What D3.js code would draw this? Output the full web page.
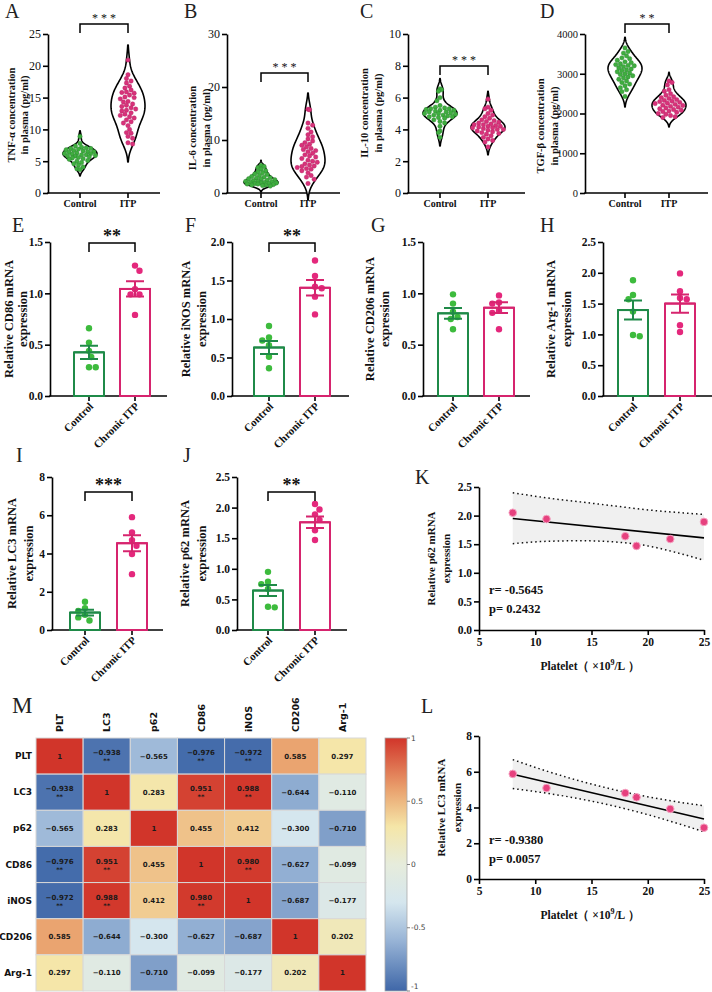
<!DOCTYPE html>
<html><head><meta charset="utf-8">
<script src="https://cdn.jsdelivr.net/npm/d3@7/dist/d3.min.js"></script>
<style>body{margin:0;background:#fff}svg{display:block}</style>
</head><body><svg id="c" width="712" height="992"></svg>
<script>
// ---------------- DATA ----------------
const violinCats = ["Control", "ITP"];
const tnfControl = [8.9,7.8,7.4,7.2,7.1,7.0,7.0,6.9,6.8,6.7,6.6,6.5,6.5,6.4,6.3,6.2,6.2,6.1,6.0,6.0,5.9,5.8,5.8,5.7,5.6,5.5,5.4,5.3,5.1,5.0,4.8,4.6,4.4,4.1,3.8,3.7];
const tnfITP = [20.9,18.6,18.0,17.6,17.3,16.8,16.5,16.2,15.9,15.8,15.7,15.4,15.1,15.0,14.8,14.4,14.3,14.0,13.8,13.6,13.4,13.2,13.0,12.9,12.6,12.4,12.2,12.0,11.8,11.5,11.2,11.0,10.6,10.0,9.5,9.4,8.9,8.6,7.9,7.7];
const il6Control = [5.2,5.0,4.8,4.5,4.2,4.0,3.8,3.6,3.5,3.3,3.1,3.0,2.9,2.8,2.7,2.6,2.5,2.4,2.3,2.2,2.2,2.1,2.0,2.0,1.9,1.9,1.8,1.8,1.7,1.7,1.6,1.5,1.5,1.4,1.3];
const il6ITP = [15.8,15.7,13.2,12.8,12.2,11.5,11.0,10.6,10.2,9.8,9.5,9.2,9.0,8.7,8.4,8.2,8.0,7.8,7.5,7.2,7.0,6.8,6.5,6.2,6.0,5.8,5.5,5.3,5.1,5.0,4.8,4.6,4.5,4.2,3.8,3.3,3.0,2.6,1.8];
const il10Control = [6.55,6.5,6.4,6.0,5.8,5.5,5.4,5.35,5.3,5.3,5.25,5.2,5.2,5.15,5.1,5.1,5.05,5.0,5.0,4.95,4.9,4.9,4.85,4.8,4.8,4.75,4.7,4.6,4.5,4.4,4.2,3.9,3.8,3.5];
const il10ITP = [5.9,5.4,5.3,5.2,5.0,4.9,4.8,4.7,4.6,4.55,4.5,4.45,4.4,4.35,4.3,4.3,4.25,4.2,4.2,4.15,4.1,4.1,4.05,4.0,4.0,3.95,3.9,3.85,3.8,3.75,3.7,3.6,3.5,3.4,3.3,3.2,2.9];
const tgfControl = [3650,3560,3520,3450,3400,3380,3340,3300,3280,3250,3230,3210,3200,3180,3150,3120,3100,3080,3050,3020,3000,2980,2950,2920,2900,2860,2820,2780,2740,2700,2650,2600,2550,2430];
const tgfITP = [2820,2780,2720,2600,2560,2500,2460,2420,2400,2380,2350,2330,2310,2300,2280,2260,2250,2230,2210,2200,2180,2160,2140,2120,2100,2080,2060,2050,2030,2000,1980,1950,1920,1900];

const barCats = ["Control", "Chronic ITP"];
const cd86Control = [0.66,0.52,0.44,0.38,0.28,0.28], cd86ITP = [1.27,1.22,1.04,0.99,0.99,0.79];
const cd86Mean = [0.425,1.043], cd86Sem = [0.065,0.075];
const inosControl = [0.91,0.76,0.72,0.66,0.51,0.36], inosITP = [1.76,1.56,1.42,1.40,1.29,1.06];
const inosMean = [0.63,1.405], inosSem = [0.085,0.10];
const cd206Control = [0.99,0.90,0.82,0.77,0.75,0.65], cd206ITP = [0.98,0.91,0.90,0.83,0.81,0.65];
const cd206Mean = [0.805,0.86], cd206Sem = [0.052,0.052];
const arg1Control = [1.88,1.64,1.57,1.37,0.99,0.97], arg1ITP = [1.99,1.70,1.59,1.57,1.15,1.04];
const arg1Mean = [1.395,1.50], arg1Sem = [0.155,0.148];
const lc3Control = [1.48,1.14,1.0,0.8,0.66,0.5], lc3ITP = [5.9,5.1,4.7,4.4,3.97,2.92];
const lc3Mean = [0.91,4.54], lc3Sem = [0.15,0.42];
const p62Control = [0.95,0.79,0.75,0.67,0.38,0.37], p62ITP = [2.06,1.97,1.89,1.80,1.63,1.47];
const p62Mean = [0.645,1.76], p62Sem = [0.09,0.095];

const plateletX = [8,11,18,19,22,25];
const p62Corr = [2.05,1.94,1.64,1.47,1.59,1.89];
const lc3Corr = [5.88,5.09,4.81,4.57,3.92,2.87];
const bandX = [8,11,14,17,20,23,25];
const p62Upper = [2.40,2.31,2.24,2.17,2.10,2.05,2.02];
const p62Lower = [1.51,1.55,1.56,1.54,1.47,1.33,1.22];
const p62Fit = [1.95,1.61];
const lc3Upper = [6.68,6.04,5.48,5.00,4.60,4.28,4.10];
const lc3Lower = [5.06,4.80,4.48,4.08,3.60,3.04,2.64];
const lc3Fit = [5.86,3.36];
const fitX = [8,25];

const heatLabels = ["PLT","LC3","p62","CD86","iNOS","CD206","Arg-1"];
const corrMatrix = [
  [1,-0.938,-0.565,-0.976,-0.972,0.585,0.297],
  [-0.938,1,0.283,0.951,0.988,-0.644,-0.110],
  [-0.565,0.283,1,0.455,0.412,-0.300,-0.710],
  [-0.976,0.951,0.455,1,0.980,-0.627,-0.099],
  [-0.972,0.988,0.412,0.980,1,-0.687,-0.177],
  [0.585,-0.644,-0.300,-0.627,-0.687,1,0.202],
  [0.297,-0.110,-0.710,-0.099,-0.177,0.202,1]];
const sigMatrix = [
  ["","**","","**","**","",""],
  ["**","","","**","**","",""],
  ["","","","","","",""],
  ["**","**","","","**","",""],
  ["**","**","","**","","",""],
  ["","","","","","",""],
  ["","","","","","",""]];
const colorbarTicks = [1,0.5,0,-0.5,-1];
const colorStops = [-1,-0.6,-0.3,0,0.3,0.6,1];
const colorVals = ["#3f67a8","#98b4d6","#d5e6ee","#e6ecdc","#f5e6a8","#e9a06d","#d1352a"];

// ---------------- HELPERS ----------------
const svg = d3.select("#c");
const SERIF = "'Liberation Serif','Times New Roman',serif";
const SANS = "'DejaVu Sans',sans-serif";
const GREEN_DOT = "#3fae3f", PINK_DOT = "#d8327a";
const GREEN_BAR = "#1f8a48", PINK_BAR = "#d6246e";

function yAxis(g, y, x, ticks, fmt, size, weight) {
  const a = g.append("g").attr("transform", `translate(${x},0)`)
    .call(d3.axisLeft(y).tickValues(ticks).tickFormat(fmt).tickSize(5).tickSizeOuter(0).tickPadding(2));
  a.select(".domain").attr("stroke", "#000").attr("stroke-width", 1.6);
  a.selectAll(".tick line").attr("stroke", "#000").attr("stroke-width", 1.6);
  a.selectAll(".tick text").attr("font-family", SERIF).attr("font-size", size)
    .attr("font-weight", weight).attr("fill", "#111");
  return a;
}
function catAxis(g, x, cats, ax, end, yb) {
  g.append("line").attr("x1", ax - 0.8).attr("x2", end).attr("y1", yb).attr("y2", yb)
    .attr("stroke", "#000").attr("stroke-width", 1.6);
  g.selectAll(null).data(cats).join("line").attr("x1", d => x(d)).attr("x2", d => x(d))
    .attr("y1", yb).attr("y2", yb + 5).attr("stroke", "#000").attr("stroke-width", 1.6);
}
function yTitle(g, lines, xs, cy, size) {
  lines.forEach((t, i) => g.append("text")
    .attr("transform", `translate(${xs[i]},${cy}) rotate(-90)`)
    .attr("text-anchor", "middle").attr("dominant-baseline", "central")
    .attr("font-family", SERIF).attr("font-weight", "bold").attr("font-size", size)
    .attr("fill", "#111").text(t));
}
function letter(t, x, y, size) {
  svg.append("text").attr("x", x).attr("y", y).attr("font-family", SERIF)
    .attr("font-size", size || 20).attr("fill", "#222").text(t);
}
function bracket(g, x1, x2, yb, drop, stars, size, weight) {
  g.append("path").attr("d", `M${x1},${yb + drop}V${yb}H${x2}V${yb + drop}`)
    .attr("fill", "none").attr("stroke", "#000").attr("stroke-width", 1.5);
  g.append("text").attr("x", (x1 + x2) / 2).attr("y", yb - (weight === "bold" ? 1.5 : 2))
    .attr("text-anchor", "middle").attr("font-family", SERIF).attr("font-size", size)
    .attr("font-weight", weight).attr("fill", "#111").text(stars);
}
// beeswarm layout; limitFn(v) gives max horizontal offset allowed
function swarm(vals, yScale, cx, r, minF, limitFn) {
  const pts = vals.map(v => ({ v, y: yScale(v) })).sort((a, b) => a.y - b.y);
  const placed = [];
  const minD = 2 * r * minF;
  const step = r * 0.7;
  pts.forEach((p, idx) => {
    const lim = limitFn ? Math.max(0, limitFn(p.v)) : 1e9;
    const cands = [0];
    for (let k = 1; k < 60; k++) {
      const a = k * step;
      if (a > lim) break;
      if (idx % 2) cands.push(a, -a); else cands.push(-a, a);
    }
    let best = null, bestScore = -1;
    for (const off of cands) {
      const md = placed.length ? d3.min(placed, q => Math.hypot(q.x - off, q.y - p.y)) : 1e9;
      if (md >= minD) { best = off; break; }
      if (md > bestScore) { bestScore = md; best = off; }
    }
    p.x = best; placed.push(p);
  });
  return pts.map(p => ({ v: p.v, x: cx + p.x, y: p.y }));
}
function kde(vals) {
  const n = vals.length, sd = d3.deviation(vals);
  const h = 0.9 * sd * Math.pow(n, -0.2);
  const f = v => d3.sum(vals, x => Math.exp(-0.5 * ((v - x) / h) ** 2));
  const lo = d3.min(vals) - 4 * h, hi = d3.max(vals) + 4 * h, N = 160;
  const pts = [];
  for (let i = 0; i <= N; i++) { const v = lo + (hi - lo) * i / N; pts.push({ v, d: f(v) }); }
  const mx = d3.max(pts, p => p.d);
  return { f, mx, pts: pts.filter(p => p.d >= 0.012 * mx) };
}
function violinPath(k, cx, y, maxW) {
  const pts = k.pts, mx = k.mx;
  const right = pts.map(p => [cx + p.d / mx * maxW, y(p.v)]);
  const left = pts.slice().reverse().map(p => [cx - p.d / mx * maxW, y(p.v)]);
  const first = pts[0], last = pts[pts.length - 1];
  const all = [[cx, y(first.v)], ...right, [cx, y(last.v)], ...left, [cx, y(first.v)]];
  return d3.line().curve(d3.curveLinear)(all);
}

// ---------------- VIOLIN PANELS ----------------
function violinPanel(o) {
  const g = svg.append("g");
  const y = d3.scaleLinear().domain(o.domain).range([193, 34]);
  const x = d3.scalePoint().domain(violinCats).range(o.cats);
  yAxis(g, y, o.ax, o.ticks, d3.format("d"), o.tickSize || 12, "normal");
  catAxis(g, x, violinCats, o.ax, o.end, 193);
  g.selectAll(null).data(violinCats).join("text").attr("x", d => x(d)).attr("y", 207)
    .attr("text-anchor", "middle").attr("font-family", SERIF).attr("font-weight", "bold")
    .attr("font-size", 10).attr("fill", "#111").text(d => d);
  const W = 17;
  [o.c, o.t].forEach((vals, i) => {
    const cx = x(violinCats[i]);
    const k = kde(vals);
    g.append("path").attr("d", violinPath(k, cx, y, W)).attr("fill", "#fff")
      .attr("stroke", "#000").attr("stroke-width", 1.6).attr("stroke-linejoin", "round");
    const lim = v => k.f(v) / k.mx * W - 0.5;
    g.selectAll(null).data(swarm(vals, y, cx, 2.2, 0.92, lim)).join("circle")
      .attr("cx", d => d.x).attr("cy", d => d.y).attr("r", 2.2)
      .attr("fill", i ? PINK_DOT : GREEN_DOT).attr("stroke", i ? "#b0205f" : "#2a8030").attr("stroke-width", 0.4);
  });
  bracket(g, o.cats[0], o.cats[1], o.br, 9, "* * *".slice(0, o.nstar * 2 - 1), 12, "normal");
  yTitle(g, o.title, o.tx, o.ty, 10.5);
  letter(o.letter, o.lx, 18);
}
violinPanel({ c: tnfControl, t: tnfITP, domain: [0, 25], ticks: [0,5,10,15,20,25], ax: 48, cats: [80,128], end: 160, br: 24, nstar: 3, title: ["TNF-α concentration","in plasma (pg/ml)"], tx: [11,24], ty: 115, letter: "A", lx: 5 });
violinPanel({ c: il6Control, t: il6ITP, domain: [0, 30], ticks: [0,10,20,30], ax: 227, cats: [261,308], end: 340, br: 73, nstar: 3, title: ["IL-6 concentration","in plasma (pg/ml)"], tx: [192,206], ty: 128, letter: "B", lx: 184 });
violinPanel({ c: il10Control, t: il10ITP, domain: [0, 10], ticks: [0,2,4,6,8,10], ax: 408, cats: [440,488], end: 525, br: 66, nstar: 3, title: ["IL-10 concentration","in plasma (pg/ml)"], tx: [364,378], ty: 113, letter: "C", lx: 360 });
violinPanel({ c: tgfControl, t: tgfITP, domain: [0, 4000], ticks: [0,1000,2000,3000,4000], ax: 585, cats: [625,669], end: 708, br: 24, nstar: 2, title: ["TGF-β concentration","in plasma (pg/ml)"], tx: [540,554], ty: 126, letter: "D", lx: 540, tickSize: 10.5 });

// ---------------- BAR PANELS ----------------
function barPanel(o) {
  const g = svg.append("g");
  const y = d3.scaleLinear().domain(o.domain).range([o.yb, o.yt]);
  const x = d3.scalePoint().domain(barCats).range(o.cats);
  yAxis(g, y, o.ax, o.ticks, d3.format(o.fmt), 11.5, "bold");
  catAxis(g, x, barCats, o.ax, o.end, o.yb);
  g.selectAll(null).data(barCats).join("text")
    .attr("transform", d => `translate(${x(d) + 5},${o.yb + 11}) rotate(-45)`)
    .attr("text-anchor", "end").attr("font-family", SERIF).attr("font-weight", "bold")
    .attr("font-size", 11).attr("fill", "#111").text(d => d);
  const groups = [o.c, o.t];
  groups.forEach((vals, i) => {
    const cx = x(barCats[i]);
    const col = i ? PINK_BAR : GREEN_BAR;
    g.append("rect").attr("x", cx - 15).attr("width", 30).attr("y", y(o.mean[i]))
      .attr("height", y(0) - y(o.mean[i])).attr("fill", "#fff").attr("stroke", col).attr("stroke-width", 2);
    g.selectAll(null).data(swarm(vals, y, cx, 3.2, 0.97, null)).join("circle")
      .attr("cx", d => d.x).attr("cy", d => d.y).attr("r", 3.2)
      .attr("fill", i ? "#e4287c" : "#3dbb3d");
    const t = y(o.mean[i] + o.sem[i]), b = y(o.mean[i] - o.sem[i]);
    g.append("path").attr("d", `M${cx},${t}V${b}M${cx - 9},${t}H${cx + 9}M${cx - 9},${b}H${cx + 9}M${cx - 15},${y(o.mean[i])}H${cx + 15}`)
      .attr("stroke", col).attr("stroke-width", 2).attr("fill", "none");
  });
  if (o.stars) bracket(g, o.cats[0], o.cats[1], o.br, 9, o.stars, 18, "bold");
  yTitle(g, o.title, o.tx, (o.yt + o.yb) / 2, 12.5);
  letter(o.letter, o.lx, o.ly);
}
barPanel({ c: cd86Control, t: cd86ITP, mean: cd86Mean, sem: cd86Sem, domain: [0,1.5], ticks: [0,0.5,1,1.5], fmt: ".1f", yt: 242, yb: 396, ax: 50, cats: [89,135], end: 167, br: 243, stars: "**", title: ["Relative CD86 mRNA","expression"], tx: [9,23], letter: "E", lx: 12, ly: 232 });
barPanel({ c: inosControl, t: inosITP, mean: inosMean, sem: inosSem, domain: [0,2], ticks: [0,0.5,1,1.5,2], fmt: ".1f", yt: 242, yb: 396, ax: 232, cats: [269,315], end: 349, br: 243, stars: "**", title: ["Relative iNOS mRNA","expression"], tx: [186,202], letter: "F", lx: 185, ly: 232 });
barPanel({ c: cd206Control, t: cd206ITP, mean: cd206Mean, sem: cd206Sem, domain: [0,1.5], ticks: [0,0.5,1,1.5], fmt: ".1f", yt: 242, yb: 396, ax: 423, cats: [453,499], end: 530, title: ["Relative CD206 mRNA","expression"], tx: [370,385], letter: "G", lx: 371, ly: 232 });
barPanel({ c: arg1Control, t: arg1ITP, mean: arg1Mean, sem: arg1Sem, domain: [0,2.5], ticks: [0,0.5,1,1.5,2,2.5], fmt: ".1f", yt: 242, yb: 396, ax: 603, cats: [633,680], end: 712, title: ["Relative Arg-1 mRNA","expression"], tx: [551,567], letter: "H", lx: 540, ly: 232 });
barPanel({ c: lc3Control, t: lc3ITP, mean: lc3Mean, sem: lc3Sem, domain: [0,8], ticks: [0,2,4,6,8], fmt: "d", yt: 477, yb: 630, ax: 52, cats: [85,132], end: 163, br: 492, stars: "***", title: ["Relative LC3 mRNA","expression"], tx: [12,29], letter: "I", lx: 16, ly: 462 });
barPanel({ c: p62Control, t: p62ITP, mean: p62Mean, sem: p62Sem, domain: [0,2.5], ticks: [0,0.5,1,1.5,2,2.5], fmt: ".1f", yt: 477, yb: 630, ax: 237, cats: [268,315], end: 347, br: 492, stars: "**", title: ["Relative p62 mRNA","expression"], tx: [185,202], letter: "J", lx: 183, ly: 462 });

// ---------------- CORRELATION PANELS ----------------
function corrPanel(o) {
  const g = svg.append("g");
  const x = d3.scaleLinear().domain([5, 25]).range([479, 704]);
  const y = d3.scaleLinear().domain(o.domain).range([o.yb, o.yt]);
  const band = bandX.map((v, i) => ({ x: v, u: o.upper[i], l: o.lower[i] }));
  g.append("path").datum(band).attr("d", d3.area().x(d => x(d.x)).y0(d => y(d.l)).y1(d => y(d.u)).curve(d3.curveMonotoneX))
    .attr("fill", "#f0f0f0");
  ["u", "l"].forEach(k => g.append("path").datum(band)
    .attr("d", d3.line().x(d => x(d.x)).y(d => y(d[k])).curve(d3.curveMonotoneX))
    .attr("fill", "none").attr("stroke", "#111").attr("stroke-width", 1.5).attr("stroke-dasharray", "1.5,3"));
  g.append("line").attr("x1", x(fitX[0])).attr("x2", x(fitX[1])).attr("y1", y(o.fit[0])).attr("y2", y(o.fit[1]))
    .attr("stroke", "#000").attr("stroke-width", 1.6);
  g.selectAll(null).data(plateletX).join("circle").attr("cx", d => x(d)).attr("cy", (d, i) => y(o.vals[i]))
    .attr("r", 3.8).attr("fill", "#e6417e").attr("stroke", "#f5a3c2").attr("stroke-width", 1);
  yAxis(g, y, 479, o.ticks, d3.format(o.fmt), 11.5, "bold");
  const xa = g.append("g").attr("transform", `translate(0,${o.yb})`)
    .call(d3.axisBottom(x).tickValues([5,10,15,20,25]).tickSize(5).tickSizeOuter(0).tickPadding(3));
  xa.select(".domain").attr("stroke", "#000").attr("stroke-width", 1.6);
  xa.selectAll(".tick line").attr("stroke", "#000").attr("stroke-width", 1.6);
  xa.selectAll(".tick text").attr("font-family", SERIF).attr("font-size", 11.5).attr("font-weight", "bold").attr("fill", "#111");
  const xt = g.append("text").attr("x", 590).attr("y", o.yb + 40).attr("text-anchor", "middle")
    .attr("font-family", SERIF).attr("font-weight", "bold").attr("font-size", 11.5).attr("fill", "#111");
  xt.append("tspan").text("Platelet（ ×10");
  xt.append("tspan").attr("dy", -5).attr("font-size", 8).text("9");
  xt.append("tspan").attr("dy", 5).text("/L ）");
  yTitle(g, o.title, o.tx, (o.yt + o.yb) / 2, 11);
  [o.r, o.p].forEach((t, i) => g.append("text").attr("x", 489).attr("y", o.ry + i * 19)
    .attr("font-family", SERIF).attr("font-weight", "bold").attr("font-size", 12.5).attr("fill", "#111").text(t));
  letter(o.letter, o.lx, o.ly);
}
corrPanel({ vals: p62Corr, upper: p62Upper, lower: p62Lower, fit: p62Fit, domain: [0,2.5], ticks: [0,0.5,1,1.5,2,2.5], fmt: ".1f", yt: 487, yb: 630, title: ["Relative p62 mRNA","expression"], tx: [431,446], r: "r= -0.5645", p: "p= 0.2432", ry: 594, letter: "K", lx: 415, ly: 484 });
corrPanel({ vals: lc3Corr, upper: lc3Upper, lower: lc3Lower, fit: lc3Fit, domain: [0,8], ticks: [0,2,4,6,8], fmt: "d", yt: 736, yb: 879, title: ["Relative LC3 mRNA","expression"], tx: [441,457], r: "r= -0.9380", p: "p= 0.0057", ry: 844, letter: "L", lx: 421, ly: 713 });

// ---------------- HEATMAP ----------------
(function () {
  const g = svg.append("g");
  const color = d3.scaleLinear().domain(colorStops).range(colorVals).interpolate(d3.interpolateRgb);
  const x = d3.scaleBand().domain(heatLabels).range([36, 366]);
  const y = d3.scaleBand().domain(heatLabels).range([738, 991]);
  const cells = [];
  corrMatrix.forEach((row, i) => row.forEach((v, j) => cells.push({ i, j, v, s: sigMatrix[i][j] })));
  g.selectAll(null).data(cells).join("rect")
    .attr("x", d => x(heatLabels[d.j])).attr("y", d => y(heatLabels[d.i]))
    .attr("width", x.bandwidth()).attr("height", y.bandwidth())
    .attr("fill", d => color(d.v)).attr("stroke", "#d8d8d8").attr("stroke-width", 1);
  const fmt = v => v === 1 ? "1" : d3.format(".3f")(v);
  g.selectAll(null).data(cells).join("text")
    .attr("x", d => x(heatLabels[d.j]) + x.bandwidth() / 2)
    .attr("y", d => y(heatLabels[d.i]) + y.bandwidth() / 2 + (d.s ? -1 : 2.5))
    .attr("text-anchor", "middle").attr("font-family", SANS).attr("font-weight", "bold")
    .attr("font-size", 7).attr("fill", "#1a1a1a").text(d => fmt(d.v));
  g.selectAll(null).data(cells.filter(d => d.s)).join("text")
    .attr("x", d => x(heatLabels[d.j]) + x.bandwidth() / 2)
    .attr("y", d => y(heatLabels[d.i]) + y.bandwidth() / 2 + 7)
    .attr("text-anchor", "middle").attr("font-family", SANS).attr("font-weight", "bold")
    .attr("font-size", 6.5).attr("fill", "#1a1a1a").text(d => d.s);
  g.selectAll(null).data(heatLabels).join("text")
    .attr("x", 32).attr("y", d => y(d) + y.bandwidth() / 2).attr("dominant-baseline", "central")
    .attr("text-anchor", "end").attr("font-family", SANS).attr("font-weight", "bold")
    .attr("font-size", 9).attr("fill", "#111").text(d => d);
  g.selectAll(null).data(heatLabels).join("text")
    .attr("transform", d => `translate(${x(d) + x.bandwidth() / 2},732) rotate(-90)`)
    .attr("dominant-baseline", "central").attr("text-anchor", "start")
    .attr("font-family", SANS).attr("font-weight", "bold").attr("font-size", 9.5).attr("fill", "#111").text(d => d);
  // colorbar
  const defs = svg.append("defs");
  const grad = defs.append("linearGradient").attr("id", "cb").attr("x1", 0).attr("x2", 0).attr("y1", 1).attr("y2", 0);
  colorStops.forEach((s, i) => grad.append("stop").attr("offset", (s + 1) / 2).attr("stop-color", colorVals[i]));
  const cy = d3.scaleLinear().domain([-1, 1]).range([991, 738]);
  g.append("rect").attr("x", 385).attr("y", 738).attr("width", 22).attr("height", 253)
    .attr("fill", "url(#cb)").attr("stroke", "#aaa").attr("stroke-width", 0.8);
  g.selectAll(null).data(colorbarTicks).join("line").attr("x1", 407).attr("x2", 410)
    .attr("y1", d => cy(d)).attr("y2", d => cy(d)).attr("stroke", "#666").attr("stroke-width", 0.8);
  g.selectAll(null).data(colorbarTicks).join("text").attr("x", 411).attr("y", d => Math.min(cy(d), 986))
    .attr("dominant-baseline", "central").attr("font-family", SANS).attr("font-size", 7.5)
    .attr("fill", "#444").text(d => d);
  letter("M", 12, 713, 23);
})();
</script>
</body></html>
